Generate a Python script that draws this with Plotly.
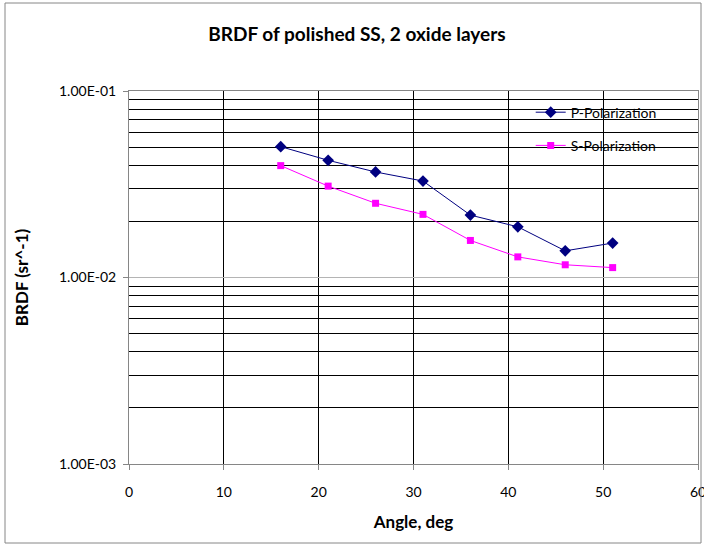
import plotly.graph_objects as go

# Measured BRDF versus scattering angle for the two polarizations
angle_deg = [16, 21, 26, 31, 36, 41, 46, 51]
brdf_p = [0.0503, 0.0425, 0.0368, 0.0329, 0.0216, 0.0187, 0.0139, 0.0153]
brdf_s = [0.0398, 0.0309, 0.0250, 0.0218, 0.0158, 0.0129, 0.0117, 0.0113]

# Axis ticks
x_ticks = [0, 10, 20, 30, 40, 50, 60]
y_major = [1e-3, 1e-2, 1e-1]
y_major_text = ["1.00E-03", "1.00E-02", "1.00E-01"]
y_minor = [m * d for d in (1e-3, 1e-2) for m in range(2, 10)]

FONT = "Lato"
AXIS_GRAY = "#868686"
TICK_FONT = dict(family=FONT, size=14, color="black")

fig = go.Figure()
fig.add_trace(go.Scatter(
    x=angle_deg, y=brdf_p, name="P-Polarization", mode="lines+markers",
    line=dict(color="#000080", width=1),
    marker=dict(symbol="diamond", size=9, color="#000080"),
    legendgroup="p",
))
fig.add_trace(go.Scatter(
    x=angle_deg, y=brdf_s, name="S-Polarization", mode="lines+markers",
    line=dict(color="#FF00FF", width=1),
    marker=dict(symbol="square", size=7, color="#FF00FF"),
    legendgroup="s",
))

fig.update_layout(
    width=704, height=546,
    margin=dict(l=129, r=6, t=91, b=82, autoexpand=False),
    paper_bgcolor="white", plot_bgcolor="white",
    font=dict(family=FONT, size=14, color="black"),
    title=dict(text="<b>BRDF of polished SS, 2 oxide layers</b>",
               x=0.507, xanchor="center", y=1 - 34 / 546, yanchor="middle",
               font=dict(family=FONT, size=19, color="black")),
    showlegend=True,
    legend=dict(x=0.706, xanchor="left", y=0.985, yanchor="top",
                bgcolor="rgba(0,0,0,0)", font=dict(family=FONT, size=14),
                tracegroupgap=12, itemwidth=30),
    xaxis=dict(
        range=[0, 60], tickvals=x_ticks, showgrid=True, gridcolor="black",
        gridwidth=1, showline=True, linecolor=AXIS_GRAY, linewidth=1,
        mirror=True, ticks="outside", ticklen=5, tickcolor=AXIS_GRAY,
        tickfont=TICK_FONT, automargin=False,
        ticklabelstandoff=10, ticklabeloverflow="allow", zeroline=False,
        title=dict(text="<b>Angle, deg</b>", standoff=17,
                   font=dict(family=FONT, size=17)),
    ),
    yaxis=dict(
        type="log", range=[-3, -1], tickvals=y_major, ticktext=y_major_text,
        showgrid=True, gridcolor="#B4B4B4", gridwidth=1,
        showline=True, linecolor=AXIS_GRAY, linewidth=1, mirror=True,
        ticks="outside", ticklen=5, tickcolor=AXIS_GRAY, ticklabelstandoff=4,
        tickfont=TICK_FONT, automargin=False, zeroline=False,
        minor=dict(tickvals=y_minor, showgrid=True, gridcolor="black",
                   gridwidth=1, ticks=""),
        title=dict(text="<b>BRDF (sr^-1)</b>", standoff=26,
                   font=dict(family=FONT, size=17)),
    ),
    shapes=[
        # white legend panel hiding the grid behind it
        dict(type="rect", xref="paper", yref="paper",
             x0=0.670, x1=0.968, y0=0.810, y1=0.995,
             fillcolor="white", line=dict(width=0), layer="between"),
        # chart frame
        dict(type="rect", xref="paper", yref="paper",
             x0=(5 - 129) / 569, x1=(701 - 129) / 569,
             y0=(464 - 543) / 373, y1=(464 - 3) / 373,
             line=dict(color=AXIS_GRAY, width=1), fillcolor="rgba(0,0,0,0)",
             layer="above"),
    ],
)

fig.write_html("out.html")
